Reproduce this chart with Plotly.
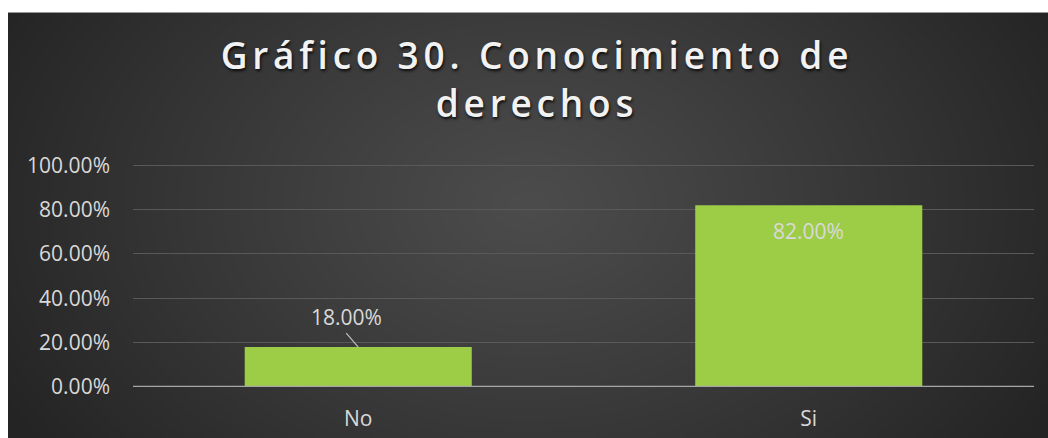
import base64
import struct
import zlib

import numpy as np
import plotly.graph_objects as go

# Chart data
categories = ["No", "Si"]
shares = [0.18, 0.82]
label_texts = ["18.00%", "82.00%"]
y_ticks = [0, 0.2, 0.4, 0.6, 0.8, 1.0]
y_tick_labels = ["0.00%", "20.00%", "40.00%", "60.00%", "80.00%", "100.00%"]

W, H = 1048, 438
Y_TOP = 1.01
# plot area in pixels: 0% at PB, 100% at Y100
PL, PR, PB, Y100 = 133, 1034, 387, 165.5
UNIT = PB - Y100
PT = PB - Y_TOP * UNIT


def png_data_uri(rgb):
    h, w, _ = rgb.shape
    raw = b"".join(b"\x00" + rgb[r].tobytes() for r in range(h))

    def chunk(tag, data):
        c = tag + data
        return struct.pack(">I", len(data)) + c + struct.pack(">I", zlib.crc32(c) & 0xFFFFFFFF)

    png = b"\x89PNG\r\n\x1a\n"
    png += chunk(b"IHDR", struct.pack(">IIBBBBB", w, h, 8, 2, 0, 0, 0))
    png += chunk(b"IDAT", zlib.compress(raw, 9))
    png += chunk(b"IEND", b"")
    return "data:image/png;base64," + base64.b64encode(png).decode()


# radial dark-grey backdrop, lighter near the middle
bw, bh = 520, 213
yy, xx = np.mgrid[0:bh, 0:bw]
cx, cy = bw * 0.50, bh * 0.45
d = np.sqrt(((xx - cx) / (bw * 0.58)) ** 2 + ((yy - cy) / (bh * 1.0)) ** 2)
d = np.clip(d, 0, 1)
inner, outer = 76.0, 36.0
val = inner + (outer - inner) * d ** 1.1
bg = np.repeat(val[:, :, None], 3, axis=2).astype(np.uint8)
bg_uri = png_data_uri(bg)

pw = PR - PL
ph = PB - PT
bg_x = (8 - PL) / pw
bg_y = (PB - 13) / ph
bg_sx = (W - 8) / pw
bg_sy = (H - 13) / ph

fig = go.Figure()
fig.add_trace(
    go.Bar(
        x=categories,
        y=shares,
        width=0.504,
        marker=dict(color="#9dcc47", line=dict(width=0)),
        hoverinfo="skip",
    )
)

# value labels: small bar label sits above with a leader line, tall bar label inside
fig.add_annotation(
    x=categories[0], y=shares[0], text=label_texts[0],
    showarrow=True, arrowhead=0, arrowwidth=1.2, arrowcolor="#bfbfbf",
    ax=-12, ay=-14, xanchor="center", yanchor="bottom",
    font=dict(family="Open Sans", size=21, color="#d9d9d9"),
    standoff=0, startstandoff=0,
)
fig.add_annotation(
    x=categories[1], y=shares[1], text=label_texts[1],
    showarrow=False, yanchor="middle", yshift=-26,
    font=dict(family="Open Sans", size=21, color="#d9d9d9"),
)

fig.add_layout_image(
    source=bg_uri, xref="paper", yref="paper",
    x=bg_x, y=bg_y, sizex=bg_sx, sizey=bg_sy,
    xanchor="left", yanchor="top", sizing="stretch", layer="below",
)

fig.update_layout(
    width=W, height=H,
    margin=dict(l=PL, r=W - PR, t=PT, b=H - PB, autoexpand=False),
    paper_bgcolor="white",
    plot_bgcolor="rgba(0,0,0,0)",
    showlegend=False,
    title=dict(
        text='<span style="letter-spacing:4.8px">Gráfico 30. Conocimiento de<br>derechos</span>',
        x=537 / W, xanchor="center", xref="container",
        y=1 - 69 / H, yanchor="top", yref="container",
        automargin=False,
        font=dict(family="Open Sans", size=37, color="#f2f2f2",
                  weight=600, shadow="1px 2px 3px rgba(0,0,0,0.8)"),
    ),
    xaxis=dict(
        showgrid=False, zeroline=False, showline=False, automargin=False,
        ticks="", tickfont=dict(family="Open Sans", size=21, color="#d9d9d9"),
        ticklabelstandoff=17,
    ),
    yaxis=dict(
        range=[0, Y_TOP], tickvals=y_ticks, ticktext=y_tick_labels,
        showgrid=True, gridcolor="#595959", gridwidth=1, automargin=False,
        zeroline=False, showline=False, ticks="",
        tickfont=dict(family="Open Sans", size=21, color="#d9d9d9"),
        ticklabelstandoff=22,
    ),
)

# baseline at 0%
fig.add_shape(type="line", xref="paper", yref="y", x0=0, x1=1, y0=0, y1=0,
              line=dict(color="#a6a6a6", width=2.5), layer="above")

fig.write_html("out.html")
